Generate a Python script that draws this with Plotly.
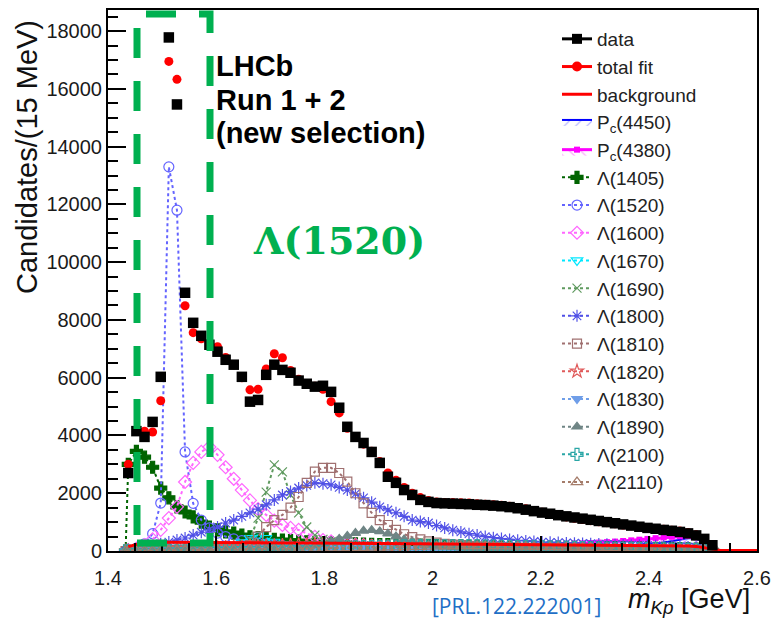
import plotly.graph_objects as go

# ---------------- data ----------------
bin_centers = [1.4375, 1.4525, 1.4675, 1.4825, 1.4975, 1.5125, 1.5275, 1.5425, 1.5575, 1.5725,
               1.5875, 1.6025, 1.6175, 1.6325, 1.6475, 1.6625, 1.6775, 1.6925, 1.7075, 1.7225,
               1.7375, 1.7525, 1.7675, 1.7825, 1.7975, 1.8125, 1.8275, 1.8425, 1.8575, 1.8725,
               1.8875, 1.9025, 1.9175, 1.9325, 1.9475, 1.9625, 1.9775, 1.9925, 2.0075, 2.0225,
               2.0375, 2.0525, 2.0675, 2.0825, 2.0975, 2.1125, 2.1275, 2.1425, 2.1575, 2.1725,
               2.1875, 2.2025, 2.2175, 2.2325, 2.2475, 2.2625, 2.2775, 2.2925, 2.3075, 2.3225,
               2.3375, 2.3525, 2.3675, 2.3825, 2.3975, 2.4125, 2.4275, 2.4425, 2.4575, 2.4725,
               2.4875, 2.5025, 2.5175]
threshold_x = 1.4325

data_counts = [2700, 4150, 3950, 4470, 6030, 17780, 15460, 8940, 7900, 7450,
               7140, 6900, 6620, 6450, 6030, 5170, 5230, 6100, 6450, 6270,
               6170, 5900, 5790, 5690, 5720, 5510, 4960, 4300, 3950, 3740,
               3430, 3050, 2570, 2360, 2110, 1940, 1770, 1700, 1660, 1650,
               1640, 1630, 1620, 1600, 1590, 1570, 1550, 1520, 1480, 1430,
               1380, 1330, 1290, 1240, 1200, 1160, 1120, 1080, 1040, 1000,
               960, 920, 880, 840, 800, 770, 730, 700, 660, 610,
               540, 420, 200]

total_fit = [3000, 4150, 4150, 4120, 5200, 16950, 16330, 8490, 7560, 7350,
             7200, 7070, 6700, 6450, 6000, 5580, 5600, 6300, 6830, 6690,
             6250, 5950, 5800, 5700, 5600, 5170, 4780, 4250, 3950, 3700,
             3450, 3100, 2700, 2450, 2200, 2000, 1850, 1750, 1700, 1680,
             1680, 1670, 1660, 1640, 1620, 1600, 1580, 1550, 1510, 1460,
             1400, 1340, 1280, 1230, 1180, 1130, 1090, 1050, 1010, 980,
             940, 900, 870, 840, 810, 780, 750, 720, 690, 640,
             560, 430, 220]

background = [150, 230, 270, 290, 300, 300, 300, 300, 300, 300,
              300, 298, 296, 294, 292, 290, 288, 286, 284, 282,
              280, 278, 276, 274, 272, 270, 268, 266, 264, 262,
              260, 258, 256, 254, 252, 250, 248, 246, 244, 242,
              240, 238, 236, 234, 232, 230, 228, 226, 224, 222,
              220, 218, 216, 214, 212, 210, 208, 206, 204, 202,
              200, 198, 196, 194, 192, 190, 187, 184, 180, 175,
              160, 120, 60]
background_tail_x = [2.5325, 2.6]
background_tail = [20, 20]

pc4450 = [0, 30, 50, 60, 65, 70, 72, 74, 76, 78,
          80, 80, 80, 80, 80, 80, 80, 80, 80, 80,
          80, 80, 80, 80, 80, 82, 82, 82, 84, 84,
          84, 86, 86, 86, 88, 88, 88, 90, 90, 90,
          92, 92, 94, 94, 96, 96, 98, 100, 102, 105,
          108, 112, 116, 120, 125, 130, 136, 142, 150, 160,
          172, 186, 202, 220, 240, 265, 295, 335, 390, 450,
          430, 300, 100]

pc4380 = [0, 30, 60, 70, 75, 80, 82, 84, 86, 88,
          90, 92, 94, 96, 98, 100, 102, 104, 106, 108,
          110, 112, 114, 116, 118, 120, 123, 126, 129, 132,
          135, 138, 141, 144, 147, 150, 153, 156, 159, 162,
          166, 170, 174, 178, 182, 186, 191, 196, 201, 207,
          213, 220, 228, 236, 245, 255, 266, 278, 292, 308,
          326, 346, 368, 392, 418, 445, 470, 492, 510, 520,
          480, 330, 100]

lam1405 = [3000, 3450, 3250, 2900, 2180, 1840, 1530, 1350, 1180, 1000,
           830, 730, 660, 620, 550, 490, 460, 430, 400, 380,
           360, 340, 320, 300, 290, 280, 270, 260, 250, 240,
           230, 225, 220, 215, 210, 205, 200, 195, 190, 185,
           180, 176, 172, 168, 164, 160, 156, 152, 148, 144,
           140, 137, 134, 131, 128, 125, 122, 119, 116, 113,
           110, 107, 104, 101, 98, 95, 92, 88, 84, 78,
           70, 50, 20]

lam1520 = [0, 100, 250, 600, 1660, 13300, 11800, 3430, 1650, 1070,
           800, 620, 500, 420, 360, 310, 270, 240, 210, 190,
           170, 155, 140, 130, 120, 112, 105, 98, 92, 86,
           80, 76, 72, 68, 65, 62, 59, 56, 54, 52,
           50, 48, 46, 44, 42, 41, 40, 39, 38, 37,
           36, 35, 34, 33, 32, 31, 30, 30, 29, 29,
           28, 28, 27, 27, 26, 26, 25, 25, 24, 23,
           20, 15, 8]

lam1600 = [30, 80, 200, 400, 730, 1140, 1530, 2390, 3050, 3430,
           3600, 3330, 2900, 2500, 2110, 1750, 1450, 1250, 1050, 900,
           800, 730, 600, 490, 380, 330, 290, 250, 220, 200,
           180, 160, 140, 120, 110, 100, 95, 90, 85, 80,
           76, 72, 68, 64, 60, 57, 54, 51, 48, 45,
           43, 41, 39, 37, 35, 33, 31, 29, 27, 25,
           24, 23, 22, 21, 20, 19, 18, 17, 16, 15,
           12, 8, 4]

lam1670 = [10, 20, 25, 30, 35, 40, 45, 50, 55, 60,
           70, 80, 120, 200, 300, 450, 550, 450, 320, 230,
           170, 130, 110, 100, 90, 85, 80, 75, 70, 65,
           60, 60, 55, 55, 50, 50, 50, 45, 45, 45,
           40, 40, 40, 40, 40, 40, 40, 40, 40, 40,
           40, 40, 35, 35, 35, 35, 30, 30, 30, 30,
           30, 30, 30, 25, 25, 25, 25, 20, 20, 20,
           15, 10, 5]

lam1690 = [20, 25, 30, 35, 40, 45, 50, 55, 60, 65,
           70, 80, 90, 110, 160, 400, 1140, 2040, 2980, 2740,
           1940, 1320, 830, 550, 400, 320, 260, 220, 190, 170,
           150, 140, 130, 120, 110, 100, 95, 90, 85, 80,
           75, 70, 66, 62, 58, 55, 52, 49, 46, 43,
           40, 38, 36, 34, 32, 30, 29, 28, 27, 26,
           25, 24, 23, 22, 21, 20, 19, 18, 17, 16,
           14, 10, 5]

lam1800 = [50, 80, 120, 180, 250, 310, 380, 450, 550, 650,
           730, 830, 970, 1070, 1200, 1320, 1450, 1600, 1770, 1940,
           2060, 2180, 2270, 2360, 2330, 2290, 2200, 2110, 1980, 1840,
           1690, 1530, 1420, 1320, 1200, 1070, 1020, 970, 880, 800,
           720, 660, 600, 550, 500, 460, 430, 400, 370, 350,
           330, 310, 300, 290, 280, 270, 260, 250, 240, 230,
           220, 210, 200, 200, 190, 180, 170, 160, 150, 140,
           120, 90, 40]

lam1810 = [10, 15, 20, 25, 30, 35, 40, 45, 50, 55,
           60, 65, 70, 80, 100, 200, 500, 830, 1070, 1250,
           1500, 1870, 2360, 2750, 2880, 2880, 2700, 2400, 2000, 1650,
           1320, 1070, 900, 730, 580, 480, 400, 330, 290, 250,
           220, 200, 180, 160, 150, 140, 130, 120, 110, 105,
           100, 95, 90, 85, 80, 76, 72, 68, 64, 60,
           57, 54, 51, 48, 45, 42, 39, 36, 33, 30,
           25, 18, 8]

lam1820 = [10, 20, 30, 40, 50, 60, 70, 80, 90, 100,
           110, 120, 130, 140, 150, 160, 170, 180, 190, 200,
           210, 220, 230, 230, 230, 220, 210, 200, 190, 180,
           170, 160, 150, 140, 130, 120, 110, 100, 95, 90,
           85, 80, 75, 70, 65, 60, 58, 56, 54, 52,
           50, 48, 46, 44, 42, 40, 38, 36, 34, 32,
           30, 30, 28, 28, 26, 26, 24, 24, 22, 20,
           15, 10, 5]

lam1830 = [5, 10, 15, 20, 25, 30, 35, 40, 45, 50,
           55, 60, 65, 70, 75, 80, 85, 90, 100, 110,
           120, 130, 140, 150, 155, 160, 155, 150, 140, 130,
           120, 110, 100, 90, 82, 75, 68, 62, 57, 52,
           48, 45, 42, 40, 38, 36, 34, 32, 30, 28,
           27, 26, 25, 24, 23, 22, 21, 20, 19, 18,
           17, 16, 15, 15, 14, 14, 13, 13, 12, 12,
           10, 7, 3]

lam1890 = [10, 12, 14, 16, 18, 20, 22, 24, 26, 28,
           30, 32, 35, 38, 42, 46, 50, 55, 60, 70,
           90, 120, 150, 190, 250, 330, 420, 520, 620, 700,
           720, 680, 600, 500, 400, 320, 260, 210, 180, 150,
           130, 115, 105, 95, 88, 82, 76, 70, 65, 60,
           56, 52, 49, 46, 43, 40, 38, 36, 34, 32,
           30, 28, 26, 25, 24, 23, 22, 21, 20, 18,
           15, 10, 5]

lam2100 = [5, 10, 15, 20, 25, 30, 35, 40, 45, 50,
           55, 60, 65, 70, 75, 80, 85, 90, 95, 100,
           105, 110, 115, 120, 125, 130, 135, 140, 145, 150,
           155, 160, 165, 170, 175, 180, 180, 180, 180, 180,
           180, 180, 178, 175, 172, 168, 164, 160, 155, 150,
           145, 140, 135, 130, 125, 120, 115, 110, 105, 100,
           96, 92, 88, 84, 80, 76, 72, 68, 62, 56,
           45, 30, 12]

lam2110 = [5, 8, 11, 14, 17, 20, 23, 26, 29, 32,
           35, 38, 41, 44, 47, 50, 54, 58, 62, 66,
           70, 74, 78, 82, 86, 90, 95, 100, 105, 110,
           115, 120, 125, 130, 135, 140, 145, 150, 155, 160,
           165, 168, 170, 170, 170, 168, 165, 162, 158, 154,
           150, 145, 140, 135, 130, 125, 120, 115, 110, 105,
           100, 95, 90, 85, 80, 75, 70, 65, 60, 54,
           45, 30, 12]

x_tick_vals = [1.4, 1.6, 1.8, 2.0, 2.2, 2.4, 2.6]
x_tick_text = ["1.4", "1.6", "1.8", "2", "2.2", "2.4", "2.6"]
y_tick_vals = [0, 2000, 4000, 6000, 8000, 10000, 12000, 14000, 16000, 18000]
y_tick_text = ["0", "2000", "4000", "6000", "8000", "10000", "12000", "14000", "16000", "18000"]

# ---------------- styling ----------------
W, H = 776, 620
L, R, T, B = 108, 19, 10, 69
PW, PH = W - L - R, H - T - B


def px(xp):
    return (xp - L) / PW


def py(yp):
    return (H - B - yp) / PH


FONT = "Liberation Sans, Arial, sans-serif"

components = [
    ("Λ(1405)", lam1405, "#006400", "cross", 10),
    ("Λ(1520)", lam1520, "#6464ff", "circle-open", 10),
    ("Λ(1600)", lam1600, "#ff66ff", "diamond-open", 10),
    ("Λ(1670)", lam1670, "#00e8ff", "triangle-down-open", 10),
    ("Λ(1690)", lam1690, "#5f9a5f", "x-thin-open", 9),
    ("Λ(1800)", lam1800, "#5050e6", "asterisk-open", 10),
    ("Λ(1810)", lam1810, "#a07070", "square-open", 9),
    ("Λ(1820)", lam1820, "#e05a5a", "star-open", 10),
    ("Λ(1830)", lam1830, "#6f9ee8", "triangle-down", 9),
    ("Λ(1890)", lam1890, "#6f8585", "triangle-up", 9),
    ("Λ(2100)", lam2100, "#2aa6a6", "cross-open", 10),
    ("Λ(2110)", lam2110, "#a57c6a", "triangle-up-open", 10),
]

fig = go.Figure()
comp_x = [threshold_x] + bin_centers

# Pc states (hatched)
fig.add_trace(go.Scatter(
    x=comp_x, y=[0] + pc4450, mode="lines", name="P<sub>c</sub>(4450)",
    line=dict(color="#0000ff", width=2), fill="tozeroy",
    fillpattern=dict(shape="/", fgcolor="#7070ff", bgcolor="rgba(0,0,0,0)", size=8, solidity=0.15),
    legendrank=4))
fig.add_trace(go.Scatter(
    x=comp_x, y=[0] + pc4380, mode="lines+markers", name="P<sub>c</sub>(4380)",
    line=dict(color="#ff00ff", width=3), marker=dict(symbol="square", size=6, color="#ff00ff"),
    fill="tozeroy",
    fillpattern=dict(shape="\\", fgcolor="#ff44ff", bgcolor="rgba(0,0,0,0)", size=8, solidity=0.15),
    legendrank=5))

for i, (name, vals, color, sym, size) in enumerate(components):
    fig.add_trace(go.Scatter(
        x=comp_x, y=[0] + vals, mode="lines+markers", name=name,
        line=dict(color=color, width=2, dash="3px,3px"),
        marker=dict(symbol=sym, size=size, color=color, line=dict(color=color, width=1.2)),
        legendrank=6 + i))

fig.add_trace(go.Scatter(
    x=bin_centers + background_tail_x, y=background + background_tail, mode="lines",
    name="background", line=dict(color="#ff0000", width=3), legendrank=3))

fig.add_trace(go.Scatter(
    x=bin_centers, y=total_fit, mode="markers", name="total fit", showlegend=False,
    marker=dict(symbol="circle", size=9, color="#ff0000")))
fig.add_trace(go.Scatter(
    x=bin_centers, y=data_counts, mode="markers", name="data", showlegend=False,
    marker=dict(symbol="square", size=10.5, color="#000000")))

# legend entries for data / total fit (line + marker style as in reference legend)
fig.add_trace(go.Scatter(x=[None], y=[None], mode="lines+markers", name="data",
                         line=dict(color="#000000", width=3),
                         marker=dict(symbol="square", size=10, color="#000000"), legendrank=1))
fig.add_trace(go.Scatter(x=[None], y=[None], mode="lines+markers", name="total fit",
                         line=dict(color="#ff0000", width=3),
                         marker=dict(symbol="circle", size=10, color="#ff0000"), legendrank=2))

axis_common = dict(showline=True, linecolor="black", linewidth=2, mirror=True,
                   showgrid=False, zeroline=False, ticks="inside", tickcolor="black",
                   tickwidth=2, tickfont=dict(family=FONT, size=20, color="#1a1a1a"))

fig.update_layout(
    width=W, height=H, margin=dict(l=L, r=R, t=T, b=B, autoexpand=False),
    paper_bgcolor="white", plot_bgcolor="white",
    xaxis=dict(range=[1.4, 2.6], tickvals=x_tick_vals, ticktext=x_tick_text, ticklen=15,
               ticklabelstandoff=8,
               minor=dict(dtick=0.05, tick0=1.4, ticks="inside", ticklen=8, tickwidth=2,
                          tickcolor="black"),
               **axis_common),
    yaxis=dict(range=[0, 18730], tickvals=y_tick_vals, ticktext=y_tick_text, ticklen=18,
               minor=dict(dtick=500, tick0=0, ticks="inside", ticklen=10, tickwidth=2,
                          tickcolor="black"),
               **axis_common),
    legend=dict(x=px(557), y=py(20), xanchor="left", yanchor="top",
                bgcolor="rgba(0,0,0,0)", font=dict(family=FONT, size=19, color="#222"),
                traceorder="normal", tracegroupgap=0),
    showlegend=True,
)

# green dashed box around Λ(1520)
fig.add_shape(type="rect", xref="paper", yref="paper",
              x0=px(137), x1=px(210), y0=py(543), y1=py(14),
              line=dict(color="#00b050", width=7, dash="30px,23px"))

annots = [
    dict(text="<b>LHCb</b>", x=px(214), y=py(66), size=29, color="black", family=FONT),
    dict(text="<b>Run 1 + 2</b>", x=px(214), y=py(100), size=29, color="black", family=FONT),
    dict(text="<b>(new selection)</b>", x=px(214), y=py(133), size=29, color="black", family=FONT),
]
for a in annots:
    fig.add_annotation(text=a["text"], x=a["x"], y=a["y"], xref="paper", yref="paper",
                       xanchor="left", yanchor="middle", showarrow=False,
                       font=dict(family=a["family"], size=a["size"], color=a["color"]))

fig.add_annotation(text="<b>Λ(1520)</b>", x=px(339), y=py(240), xref="paper", yref="paper",
                   showarrow=False, xanchor="center", yanchor="middle",
                   font=dict(family="DejaVu Serif, serif", size=38, color="#00b050"))

fig.add_annotation(text="Candidates/(15 MeV)", x=px(27), y=py(157), xref="paper", yref="paper",
                   textangle=-90, showarrow=False, xanchor="center", yanchor="middle",
                   font=dict(family=FONT, size=29, color="#111"))

fig.add_annotation(text="<i>m</i><sub><i>Kp</i></sub> [GeV]", x=px(752), y=py(601),
                   xref="paper", yref="paper", showarrow=False, xanchor="right", yanchor="middle",
                   font=dict(family=FONT, size=27, color="#111"))

fig.add_annotation(text="[PRL.122.222001]", x=px(516), y=py(606), xref="paper", yref="paper",
                   showarrow=False, xanchor="center", yanchor="middle",
                   font=dict(family="Open Sans, sans-serif", size=21, color="#1f6fc6"))

fig.write_html("out.html")
